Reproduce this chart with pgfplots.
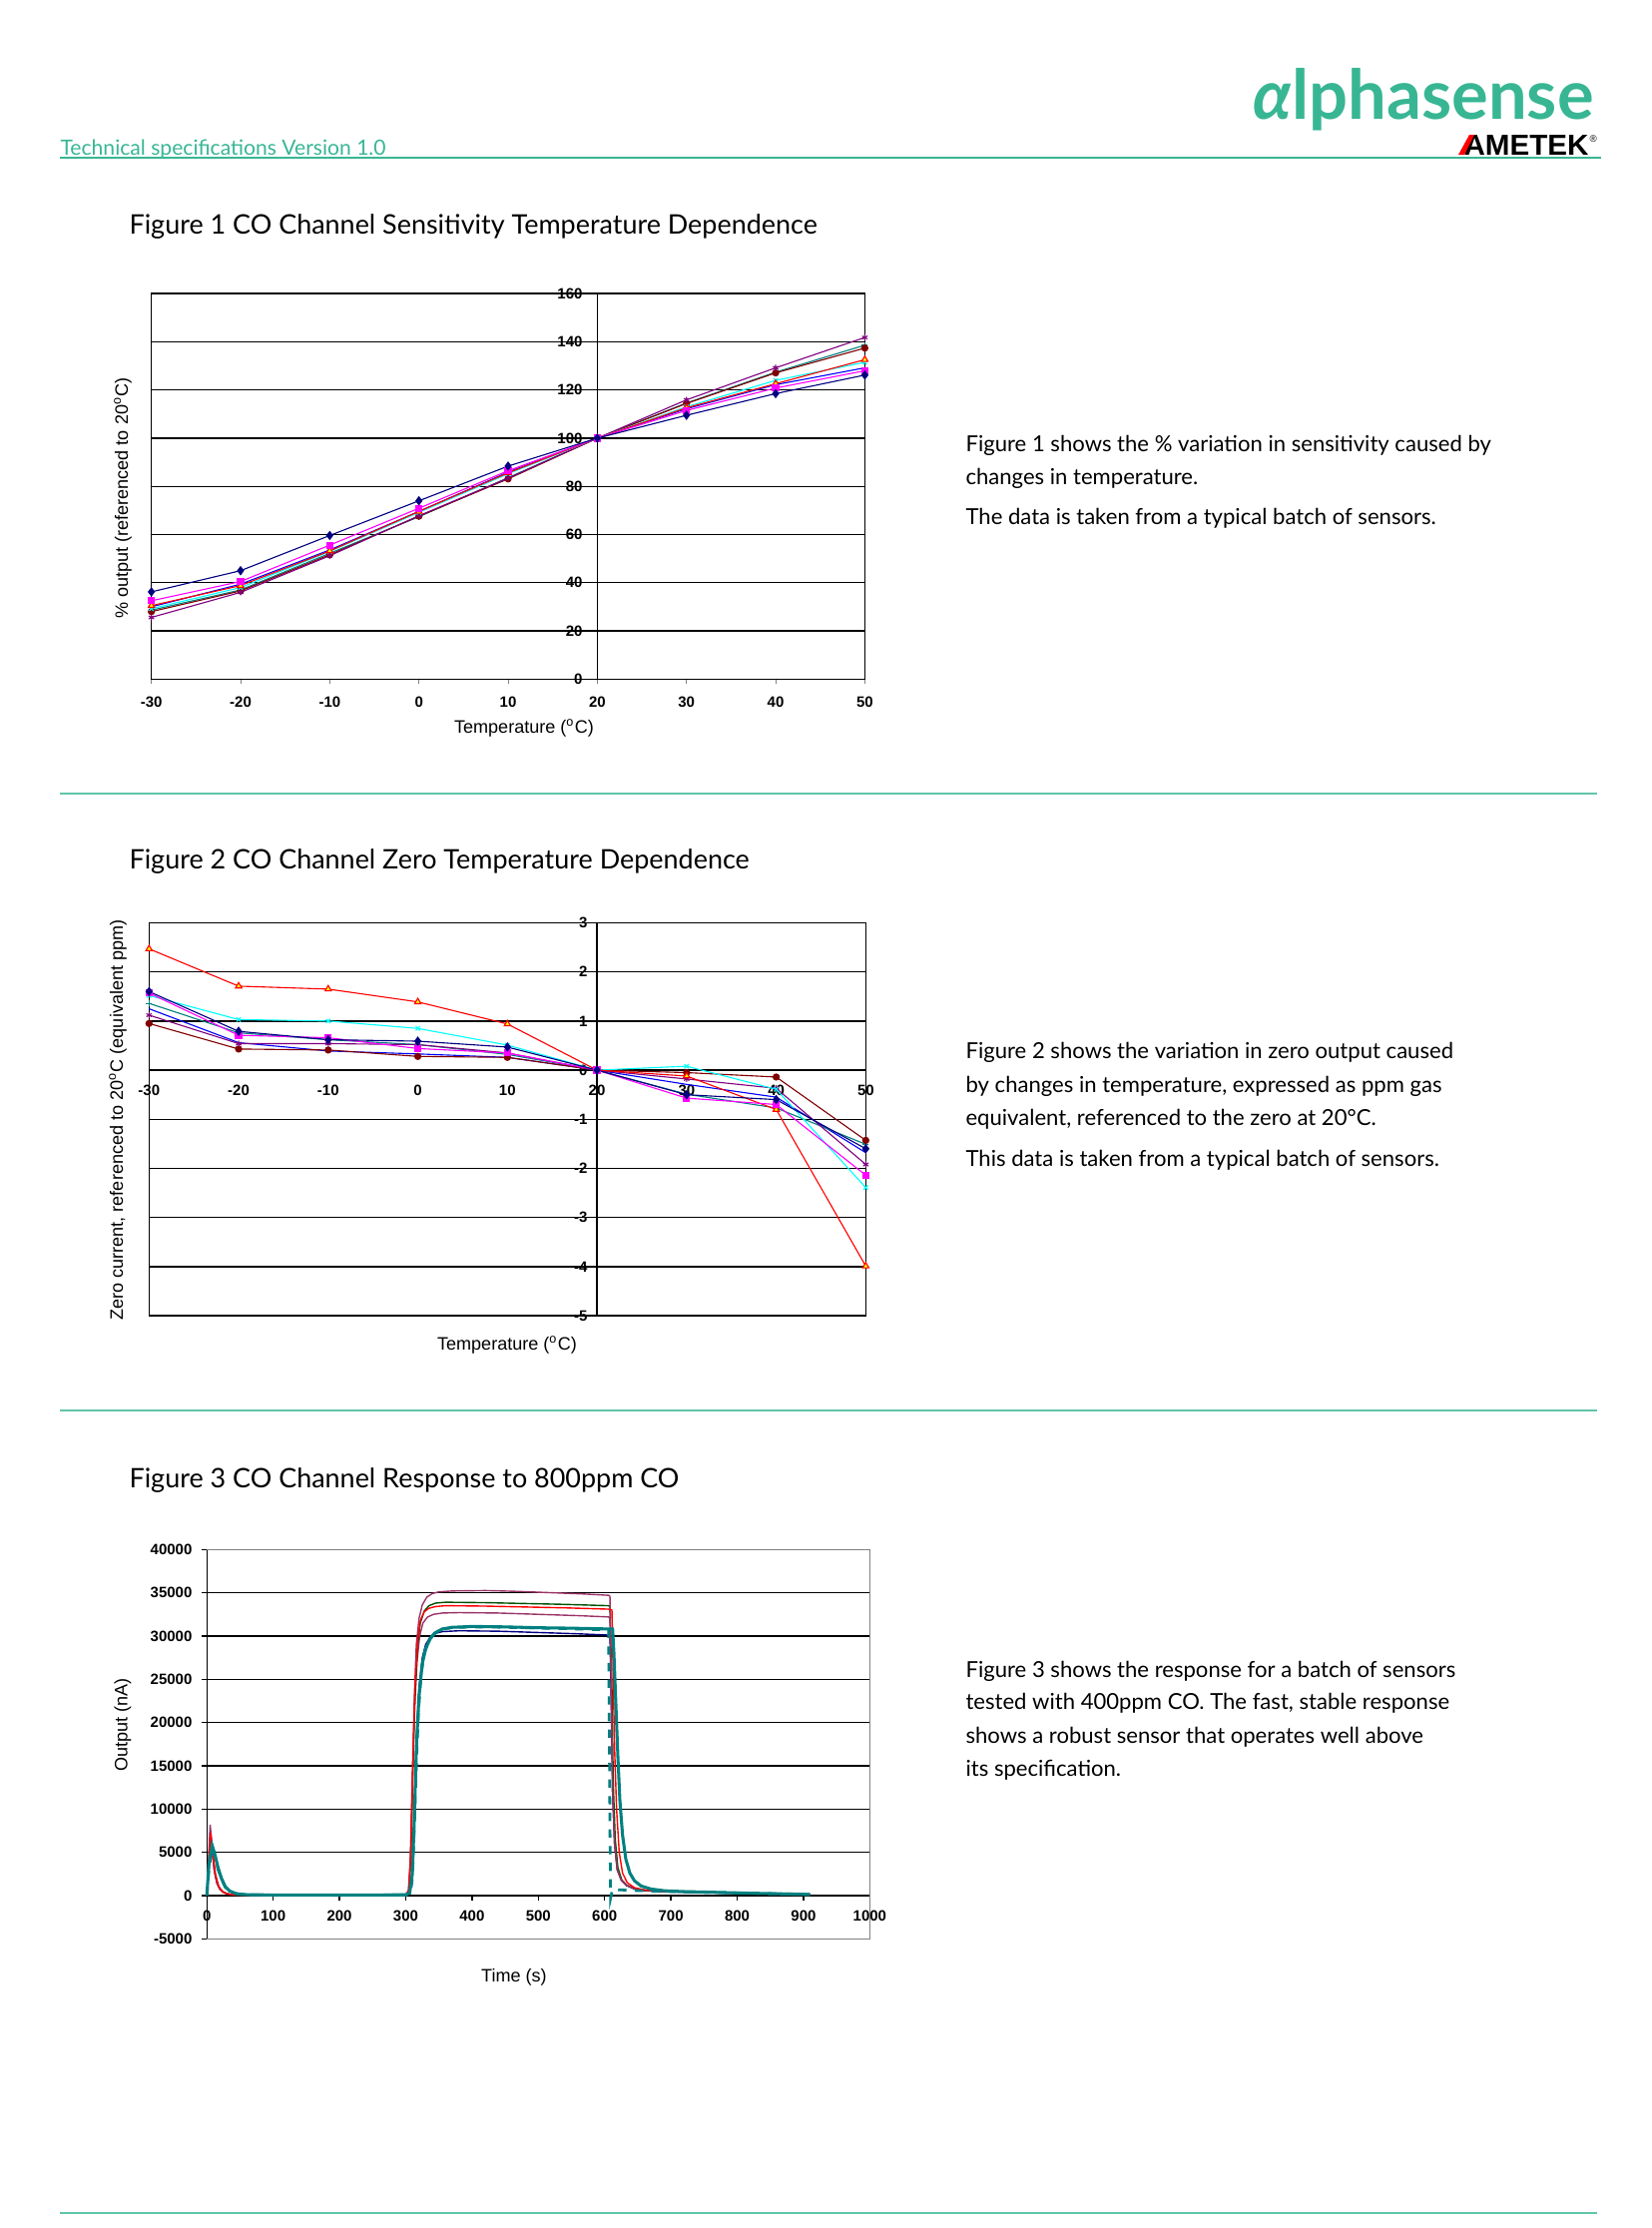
\documentclass[border=0pt]{standalone}
\usepackage{graphicx}
\usepackage{pgfplots}
\pgfplotsset{compat=1.18}
\usepackage{fontspec}
\setmainfont{Liberation Sans}
\newfontfamily\lato{Lato}

\definecolor{asgreen}{RGB}{56,182,148}
\definecolor{xnavy}{RGB}{0,0,128}
\definecolor{xmagenta}{RGB}{255,0,255}
\definecolor{xyellow}{RGB}{255,255,0}
\definecolor{xcyan}{RGB}{0,255,255}
\definecolor{xpurple}{RGB}{128,0,128}
\definecolor{xmaroon}{RGB}{128,0,0}
\definecolor{xteal}{RGB}{0,128,128}
\definecolor{xblue}{RGB}{0,0,255}
\definecolor{xred}{RGB}{255,0,0}
\definecolor{xplum}{RGB}{153,51,102}
\definecolor{xgreen}{RGB}{0,80,0}

\pgfplotsset{
  xlchart/.style={
    scale only axis, anchor=south west, clip=false,
    axis line style={black, line width=0.5pt},
    ymajorgrids, grid style={black, line width=0.5pt},
    tick label style={font=\fontsize{5.4}{6}\selectfont\bfseries},
    /pgf/number format/assume math mode=true,
    every axis plot/.append style={line width=0.4pt, mark size=1.1pt},
  },
  tempchart/.style={xlchart, xmin=-30, xmax=50, xtick={-30,-20,...,50}},
  s1/.style={xnavy, mark=diamond*, mark options={fill=xnavy, mark size=1.4pt}},
  s2/.style={xmagenta, mark=square*, mark options={fill=xmagenta}},
  s3/.style={xred, mark=triangle*, mark options={draw=xred, fill=xyellow, mark size=1.3pt}},
  s4/.style={xcyan, mark=x},
  s5/.style={xpurple, mark=asterisk},
  s6/.style={xmaroon, mark=*, mark options={fill=xmaroon}},
  s7/.style={xteal, mark=+},
  s8/.style={xblue, mark=none},
}

\begin{document}
\begin{tikzpicture}
\path[use as bounding box] (0,0) rectangle (595.44pt,-803.52pt);

% ---------- page furniture (pixel coordinates of the page) ----------
\begin{scope}[x=0.36pt, y=-0.36pt]
  \node[anchor=base west, inner sep=0, text=asgreen, font=\lato\fontsize{7.6}{9}\selectfont]
    at (60,155) {Technical specifications Version 1.0};
  \draw[asgreen, line width=0.5pt] (60,158) -- (1604,158);
  \node[anchor=base west, inner sep=0, text=asgreen]
    at (1255,119) {\resizebox{122.8pt}{!}{\lato\bfseries\itshape α\upshape lphasense}};
  \node[anchor=base west, inner sep=0]
    at (1466,155) {\resizebox{45pt}{7.2pt}{\bfseries AMETEK}};
  \fill[xred] (1461,155) -- (1467,155) -- (1477,135) -- (1472,135) -- cycle;
  \node[anchor=base west, inner sep=0, font=\fontsize{3.5}{4}\selectfont] at (1592,142) {®};

  \foreach \y in {795,1413,2217}
    \draw[asgreen!80, line width=0.4pt] (60,\y) -- (1600,\y);

  \begin{scope}[every node/.style={anchor=base west, inner sep=0, font=\lato\fontsize{9.7}{11}\selectfont}]
    \node at (129,234) {Figure 1 CO Channel Sensitivity Temperature Dependence};
    \node at (129,870) {Figure 2 CO Channel Zero Temperature Dependence};
    \node at (129,1490) {Figure 3 CO Channel Response to 800ppm CO};
  \end{scope}

  \begin{scope}[every node/.style={anchor=base west, inner sep=0, font=\lato\fontsize{7.95}{9}\selectfont}]
    \node at (967,452.7) {Figure 1 shows the \% variation in sensitivity caused by};
    \node at (967,485) {changes in temperature.};
    \node at (967,525) {The data is taken from a typical batch of sensors.};
    \node at (967,1060.7) {Figure 2 shows the variation in zero output caused};
    \node at (967,1094) {by changes in temperature, expressed as ppm gas};
    \node at (967,1127) {equivalent, referenced to the zero at 20°C.};
    \node at (967,1168) {This data is taken from a typical batch of sensors.};
    \node at (967,1680) {Figure 3 shows the response for a batch of sensors};
    \node at (967,1712.7) {tested with 400ppm CO. The fast, stable response};
    \node at (967,1746.7) {shows a robust sensor that operates well above};
    \node at (967,1779) {its specification.};
  \end{scope}

  \begin{scope}[every node/.style={inner sep=0, font=\fontsize{6.5}{8}\selectfont}]
    \node[rotate=90] at (123,499) {\% output (referenced to 20\textsuperscript{o}C)};
    \node at (525,729) {Temperature (\textsuperscript{o}C)};
    \node[rotate=90] at (118,1122) {Zero current, referenced to 20\textsuperscript{o}C (equivalent ppm)};
    \node at (508,1347) {Temperature (\textsuperscript{o}C)};
    \node[rotate=90] at (123,1728) {Output (nA)};
    \node at (515,1981) {Time (s)};
  \end{scope}
\end{scope}

% ---------- Figure 1 ----------
\begin{axis}[tempchart, at={(54.6pt,-244.9pt)}, width=257.3pt, height=139pt,
  ymin=0, ymax=160, ytick={0,20,...,160},
  tick align=outside, major tick length=1.8pt, xtick pos=bottom, ytick style={draw=none},
  xticklabel style={yshift=-1.2pt}, yticklabel style={xshift=160.8pt}]
  \draw[black, line width=0.5pt] (axis cs:20,0) -- (axis cs:20,160);
  \addplot[s8] coordinates {(-30,30) (-20,39.4) (-10,53.6) (0,69.6) (10,85.9) (20,100) (30,112.2) (40,122.2) (50,129.2)};
  \addplot[s7] coordinates {(-30,28.6) (-20,37) (-10,52.2) (0,67.4) (10,83.6) (20,100) (30,114.6) (40,127.4) (50,138.6)};
  \addplot[s6] coordinates {(-30,28) (-20,36.6) (-10,51.6) (0,67.6) (10,83.1) (20,100) (30,114.4) (40,127.1) (50,137.4)};
  \addplot[s5] coordinates {(-30,25.6) (-20,36) (-10,51.2) (0,67.8) (10,83.4) (20,100) (30,115.9) (40,129.2) (50,141.8)};
  \addplot[s4] coordinates {(-30,29.2) (-20,38) (-10,53) (0,69.2) (10,85.2) (20,100) (30,113) (40,124) (50,131.5)};
  \addplot[s3] coordinates {(-30,30.5) (-20,38.8) (-10,53.2) (0,69.6) (10,85.6) (20,100) (30,112.6) (40,122.6) (50,132.6)};
  \addplot[s2] coordinates {(-30,32.5) (-20,40.5) (-10,55.6) (0,70.9) (10,86.5) (20,100) (30,111.5) (40,120.8) (50,128)};
  \addplot[s1] coordinates {(-30,36.2) (-20,45) (-10,59.6) (0,74) (10,88.4) (20,100) (30,109.5) (40,118.5) (50,126.2)};
\end{axis}

% ---------- Figure 2 ----------
\begin{axis}[tempchart, at={(53.75pt,-474.5pt)}, width=258.5pt, height=141.7pt,
  ymin=-5, ymax=3, ytick={-5,-4,...,3},
  tick style={draw=none},
  xticklabel style={yshift=86.6pt}, yticklabel style={xshift=161.6pt}]
  \draw[black, line width=0.5pt] (axis cs:20,-5) -- (axis cs:20,3);
  \addplot[s8] coordinates {(-30,1.25) (-20,0.56) (-10,0.39) (0,0.33) (10,0.26) (20,0) (30,-0.29) (40,-0.55) (50,-1.68)};
  \addplot[s7] coordinates {(-30,1.36) (-20,0.76) (-10,0.62) (0,0.52) (10,0.32) (20,0) (30,-0.49) (40,-0.77) (50,-1.51)};
  \addplot[s6] coordinates {(-30,0.95) (-20,0.43) (-10,0.41) (0,0.28) (10,0.26) (20,0) (30,-0.05) (40,-0.14) (50,-1.43)};
  \addplot[s5] coordinates {(-30,1.12) (-20,0.54) (-10,0.54) (0,0.52) (10,0.35) (20,0) (30,-0.18) (40,-0.37) (50,-1.92)};
  \addplot[s4] coordinates {(-30,1.52) (-20,1.03) (-10,1.0) (0,0.85) (10,0.51) (20,0) (30,0.08) (40,-0.39) (50,-2.39)};
  \addplot[s3] coordinates {(-30,2.47) (-20,1.71) (-10,1.65) (0,1.39) (10,0.94) (20,0) (30,-0.12) (40,-0.8) (50,-3.99)};
  \addplot[s2] coordinates {(-30,1.57) (-20,0.71) (-10,0.66) (0,0.44) (10,0.35) (20,0) (30,-0.57) (40,-0.7) (50,-2.14)};
  \addplot[s1] coordinates {(-30,1.6) (-20,0.79) (-10,0.62) (0,0.59) (10,0.47) (20,0) (30,-0.5) (40,-0.6) (50,-1.6)};
\end{axis}

% ---------- Figure 3 ----------
\begin{axis}[xlchart, at={(74.6pt,-699.2pt)}, width=239.1pt, height=140.4pt,
  xmin=0, xmax=1000, ymin=-5000, ymax=40000,
  xtick={0,100,...,1000}, ytick={-5000,0,...,40000},
  axis x line=middle, axis y line=left, axis line style={-},
  hide obscured x ticks=false, hide obscured y ticks=false,
  tick align=outside, major tick length=1.8pt, tick style={black, line width=0.5pt},
  scaled y ticks=false, /pgf/number format/1000 sep={},
  every axis plot/.append style={line width=0.5pt, mark=none}]
  \draw[gray, line width=0.5pt] (rel axis cs:0,1) -- (rel axis cs:1,1) -- (rel axis cs:1,0) -- (rel axis cs:0,0);
  % navy
  \addplot[xnavy] coordinates {(0,0) (3,3200) (8,5500) (12,4500) (17,3000) (22,1800) (28,900) (35,450) (45,180) (60,90) (100,50) (200,40) (300,70) (306,350) (310,3000) (313,10000) (316,18000) (320,24000) (325,27500) (330,29000) (337,29900) (345,30300) (355,30500) (380,30600) (440,30550) (500,30400) (560,30250) (606,30100) (608,30000) (610,22000) (612,12000) (615,6000) (619,3000) (625,1800) (633,1150) (645,750) (660,560) (690,430) (750,340) (800,260) (850,190) (900,130) (910,110)};
  % plum lower
  \addplot[xplum] coordinates {(0,0) (2,3000) (5,7600) (8,5200) (11,2900) (15,1400) (20,650) (27,280) (35,140) (50,70) (100,45) (200,35) (300,55) (304,450) (307,3800) (310,13000) (313,21000) (317,27000) (321,30000) (326,31500) (333,32200) (342,32500) (355,32650) (380,32700) (440,32650) (500,32500) (560,32350) (606,32200) (608,32100) (610,24000) (612,12000) (615,6000) (619,3000) (625,1800) (633,1200) (645,800) (660,600) (690,450) (750,350) (800,270) (850,210) (900,150) (910,130)};
  % dark green
  \addplot[xgreen] coordinates {(0,0) (3,3000) (6,6500) (9,4500) (13,2200) (18,1000) (25,400) (33,150) (45,70) (100,40) (200,30) (300,50) (305,600) (308,5000) (311,15000) (314,23000) (318,29000) (322,31500) (328,32900) (335,33500) (345,33800) (360,33900) (420,33850) (480,33750) (540,33650) (606,33500) (608,33400) (611,24000) (613,13000) (616,6500) (620,3200) (626,1800) (634,1150) (646,800) (662,600) (690,480) (750,360) (800,280) (850,210) (900,140) (910,120)};
  % plum upper
  \addplot[xplum] coordinates {(0,0) (2,3000) (5,8200) (8,5500) (11,3000) (15,1500) (20,700) (27,300) (35,150) (50,80) (100,50) (200,40) (300,60) (304,500) (307,4000) (310,14000) (313,23000) (316,29000) (320,32000) (325,33600) (332,34500) (340,34900) (350,35100) (370,35200) (420,35250) (470,35150) (520,35000) (570,34850) (606,34700) (608,34600) (610,25000) (612,12000) (615,6000) (619,3000) (625,1800) (633,1200) (645,800) (660,600) (690,450) (750,350) (800,280) (850,220) (900,150) (910,130)};
  % red
  \addplot[xred] coordinates {(0,0) (3,4000) (6,7200) (9,5000) (13,2500) (18,1000) (24,400) (32,150) (45,60) (100,30) (200,25) (300,50) (305,700) (308,6000) (311,16000) (314,24000) (318,29500) (322,31800) (328,32800) (335,33200) (345,33400) (360,33500) (420,33450) (480,33350) (540,33250) (606,33100) (611,33000) (613,25000) (615,17000) (618,10000) (622,5000) (627,2600) (634,1500) (645,900) (660,650) (690,480) (750,360) (800,270) (850,200) (900,140) (910,120)};
  % teal dashed
  \addplot[xteal, line width=1pt, dashed] coordinates {(0,0) (3,3000) (8,5500) (12,4600) (17,3000) (22,1900) (28,950) (35,480) (45,190) (60,90) (100,55) (200,45) (300,70) (307,250) (310,2000) (313,8000) (316,15000) (319,21000) (323,25500) (328,28000) (335,29500) (343,30300) (355,30800) (375,31000) (420,31050) (480,30950) (540,30850) (606,30700) (607,20000) (608,8000) (609,-300) (612,700) (625,650) (640,600) (660,550) (690,480) (750,380) (800,300) (850,220) (900,150) (910,130)};
  % teal solid
  \addplot[xteal, line width=1.1pt] coordinates {(0,0) (3,3500) (8,5800) (12,4800) (17,3200) (22,2000) (28,1000) (35,500) (45,200) (60,100) (100,60) (200,50) (300,80) (306,300) (310,2500) (313,9000) (316,17000) (320,23000) (325,26800) (330,28500) (337,29700) (345,30400) (355,30800) (370,31000) (400,31100) (450,31050) (500,30950) (550,30900) (612,30800) (614,28000) (617,22000) (620,16000) (623,11000) (627,7000) (632,4200) (638,2600) (645,1700) (655,1100) (670,750) (690,550) (720,450) (760,380) (800,300) (850,220) (880,170) (910,120)};
\end{axis}
\end{tikzpicture}
\end{document}
